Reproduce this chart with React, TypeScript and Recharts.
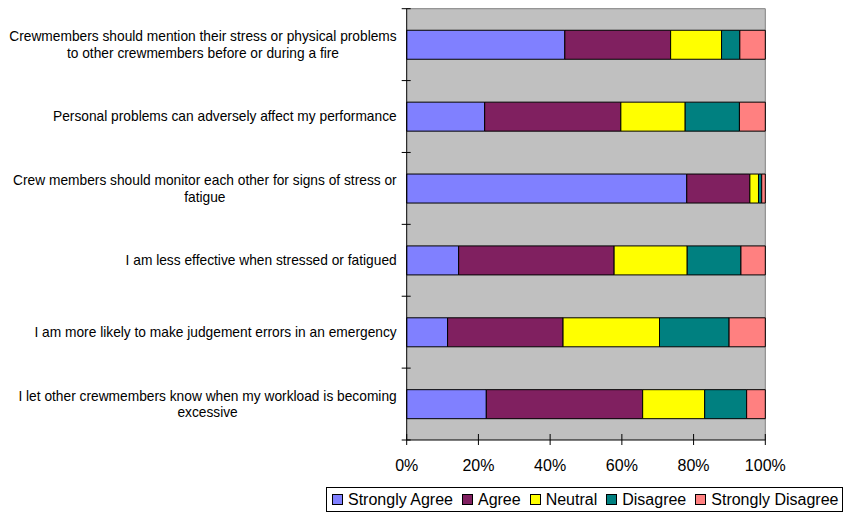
import React from 'react';
import { BarChart, Bar, XAxis, YAxis, Legend, CartesianGrid } from 'recharts';

const categories: string[] = [
  'Crewmembers should mention their stress or physical problems\nto other crewmembers before or during a fire',
  'Personal problems can adversely affect my performance',
  'Crew members should monitor each other for signs of stress or\nfatigue',
  'I am less effective when stressed or fatigued',
  'I am more likely to make judgement errors in an emergency',
  'I let other crewmembers know when my workload is becoming\nexcessive',
];

const stronglyAgree: number[] = [44.1, 21.7, 78.1, 14.5, 11.4, 22.2];
const agree: number[] = [29.5, 37.9, 17.6, 43.4, 32.2, 43.6];
const neutral: number[] = [14.2, 17.9, 2.4, 20.4, 26.9, 17.3];
const disagree: number[] = [5.1, 15.1, 0.9, 15.0, 19.4, 11.7];
const stronglyDisagree: number[] = [7.1, 7.2, 1.0, 6.8, 10.1, 5.2];

const seriesNames: string[] = ['Strongly Agree', 'Agree', 'Neutral', 'Disagree', 'Strongly Disagree'];
const seriesColors: string[] = ['#8080FF', '#802060', '#FFFF00', '#008080', '#FF8080'];
const xTicks: number[] = [0, 0.2, 0.4, 0.6, 0.8, 1];

const data = categories.map((label, i) => ({
  label,
  sa: stronglyAgree[i],
  a: agree[i],
  n: neutral[i],
  d: disagree[i],
  sd: stronglyDisagree[i],
}));
const keys = ['sa', 'a', 'n', 'd', 'sd'];

const FONT = "'Liberation Sans', Arial, sans-serif";
const LABEL_SIZE = 13.75;

let ctx: CanvasRenderingContext2D | null = null;
function measure(text: string): number {
  if (!ctx) ctx = document.createElement('canvas').getContext('2d');
  if (!ctx) return text.length * 7;
  ctx.font = `${LABEL_SIZE}px ${FONT}`;
  return ctx.measureText(text).width;
}

const CategoryTick = (props: any) => {
  const { x, y, payload, index } = props;
  const axisH = Number(props.height) || 431.3;
  const band = axisH / categories.length;
  const axisX = x + 10;
  const lines: string[] = String(payload.value).split('\n');
  const lh = 16.7;
  const y0 = y - ((lines.length - 1) * lh) / 2;
  const maxW = Math.max(...lines.map(measure));
  const cx = x - maxW / 2;
  return (
    <g>
      <line x1={axisX - 5} x2={axisX + 4} y1={y - band / 2} y2={y - band / 2} stroke="#000" />
      {index === categories.length - 1 && (
        <line x1={axisX - 5} x2={axisX + 4} y1={y + band / 2} y2={y + band / 2} stroke="#000" />
      )}
      {lines.map((l, i) => (
        <text
          key={i}
          x={lines.length === 1 ? x : cx}
          y={y0 + i * lh}
          dy="0.355em"
          textAnchor={lines.length === 1 ? 'end' : 'middle'}
          fontFamily={FONT}
          fontSize={LABEL_SIZE}
          fill="#000"
        >
          {l}
        </text>
      ))}
    </g>
  );
};

const PercentTick = (props: any) => {
  const { x, y, payload } = props;
  return (
    <g>
      <line x1={x} x2={x} y1={y - 6} y2={y + 5} stroke="#000" />
      <text x={x} y={y + 30.7} textAnchor="middle" fontFamily={FONT} fontSize={16} fill="#000">
        {`${Math.round(payload.value * 100)}%`}
      </text>
    </g>
  );
};

const LegendBox = (props: any) => {
  const payload = [...(props.payload || [])].sort(
    (p: any, q: any) => seriesNames.indexOf(p.value) - seriesNames.indexOf(q.value)
  );
  return (
    <div
      style={{
        display: 'flex',
        alignItems: 'center',
        border: '1px solid #000',
        background: '#fff',
        padding: '2px 4px 2px 5px',
        height: 19,
        fontFamily: FONT,
        fontSize: 16,
        whiteSpace: 'nowrap',
        color: '#000',
        boxSizing: 'content-box',
      }}
    >
      {payload.map((p: any, i: number) => (
        <div key={i} style={{ display: 'flex', alignItems: 'center', marginRight: i < payload.length - 1 ? 9 : 0 }}>
          <span
            style={{
              display: 'inline-block',
              width: 9,
              height: 9,
              background: p.color,
              border: '1px solid #000',
              marginRight: 5,
            }}
          />
          <span>{p.value}</span>
        </div>
      ))}
    </div>
  );
};

export default function App() {
  return (
    <div style={{ position: 'absolute', left: 0, top: 0, width: 843, height: 513, background: '#fff' }}>
      <BarChart
        width={843}
        height={513}
        data={data}
        layout="vertical"
        stackOffset="expand"
        barCategoryGap="30%"
        margin={{ top: 8.7, right: 77.7, left: 0, bottom: 43 }}
      >
        <CartesianGrid
          fill="#C0C0C0"
          fillOpacity={1}
          stroke="#808080"
          horizontalCoordinatesGenerator={(p: any) => [p.offset.top]}
          verticalCoordinatesGenerator={(p: any) => [p.offset.left + p.offset.width]}
        />
        <XAxis
          type="number"
          domain={[0, 1]}
          ticks={xTicks}
          axisLine={{ stroke: '#000' }}
          tickLine={false}
          tickSize={0}
          tickMargin={0}
          height={30}
          tick={<PercentTick />}
          interval={0}
        />
        <YAxis
          type="category"
          dataKey="label"
          width={406.7}
          tick={<CategoryTick />}
          tickLine={false}
          tickSize={0}
          tickMargin={10}
          axisLine={{ stroke: '#000' }}
          interval={0}
        />
        <Legend
          layout="horizontal"
          verticalAlign="middle"
          align="center"
          wrapperStyle={{ left: 326, top: 487, width: 'auto' }}
          content={<LegendBox />}
        />
        {keys.map((k, i) => (
          <Bar
            key={k}
            dataKey={k}
            name={seriesNames[i]}
            stackId="s"
            fill={seriesColors[i]}
            stroke="#000"
            strokeWidth={1}
            isAnimationActive={false}
          />
        ))}
      </BarChart>
    </div>
  );
}
